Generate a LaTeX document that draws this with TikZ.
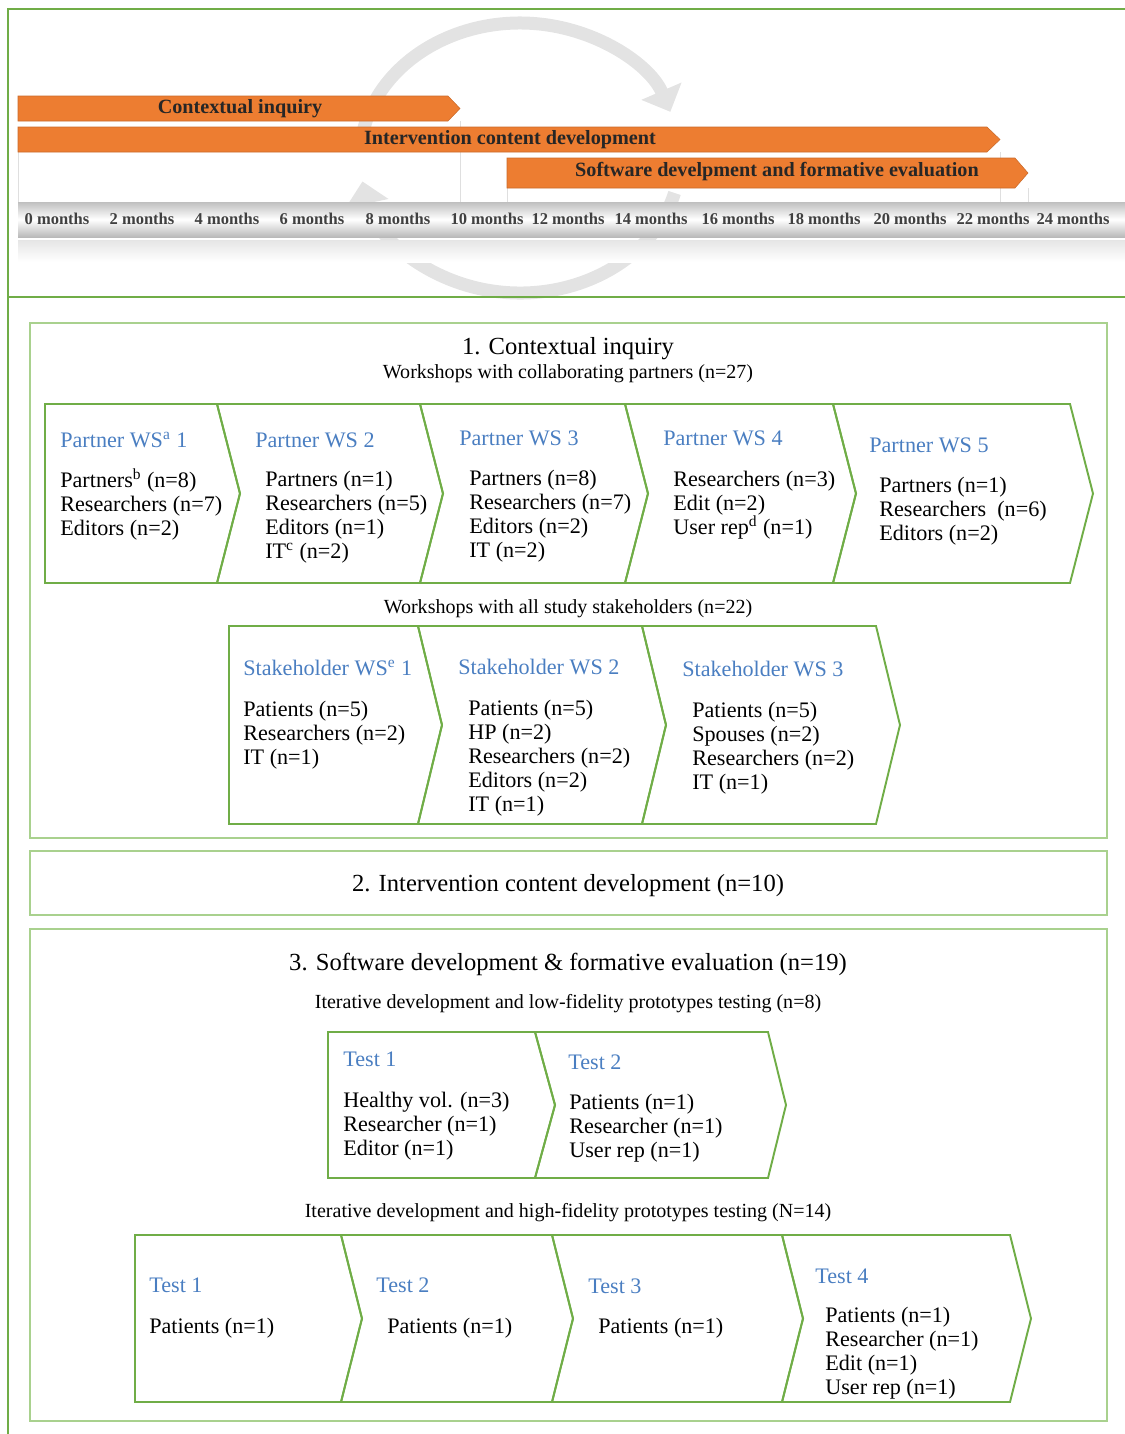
\documentclass[tikz,border=0pt]{standalone}
\usepackage{fontspec}
\setmainfont{Liberation Serif}
\usetikzlibrary{arrows.meta}
\definecolor{framegreen}{RGB}{112,173,71}
\definecolor{boxgreen}{RGB}{169,209,142}
\definecolor{wsblue}{RGB}{74,126,193}
\definecolor{barorange}{RGB}{237,125,49}
\begin{document}
\begin{tikzpicture}[x=0.02cm, y=-0.02cm,
  frame/.style={draw=framegreen, line width=1.2pt},
  secbox/.style={draw=boxgreen, line width=1pt},
  chev/.style={draw=framegreen, line width=1.1pt, line join=miter},
  bar/.style={fill=barorange, draw=barorange!85!black, line width=0.3pt},
  bartxt/.style={font=\fontsize{11.5}{13}\selectfont\bfseries, text=black!85, inner sep=0pt},
  month/.style={font=\fontsize{9.4}{11}\selectfont\bfseries, text=black!75, inner sep=0pt},
  swirl/.style={draw=gray!22, line width=0.26cm, -{Triangle[length=0.45cm, width=0.85cm]}},
  ttl/.style={font=\fontsize{14}{16}\selectfont, inner sep=0pt},
  sub/.style={font=\fontsize{11.4}{13}\selectfont, inner sep=0pt},
  hd/.style={anchor=base west, inner sep=0pt, text=wsblue, font=\fontsize{12.6}{13.7}\selectfont},
  bd/.style={anchor=base west, inner sep=0pt, align=left, font=\fontsize{12.6}{13.66}\selectfont}]
  \useasboundingbox (0,0) rectangle (1125,1434);
  % timeline panel
  \draw[swirl] (520,158) ++(-170:160 and 135) arc[start angle=-170, end angle=-20, x radius=160, y radius=135];
  \draw[swirl] (520,158) ++(15:160 and 135) arc[start angle=15, end angle=170, x radius=160, y radius=135];
  \foreach \x/\y in {18/152, 460/121, 507/188, 1000/152, 1028/188}
    \draw[gray!25] (\x,\y) -- (\x,202);
  \shade[top color=gray!50, bottom color=gray!55, middle color=white] (18,202) rectangle (1125,237);
  \shade[top color=gray!20, bottom color=white] (18,240) rectangle (1125,262);
  \foreach \m/\x in {0/57, 2/142, 4/227, 6/312, 8/398, 10/487, 12/568, 14/651, 16/738, 18/824, 20/910, 22/993, 24/1073}
    \node[month] (m\m) at (\x,219) {\m\ months};
  \draw[bar] (18,96) -- (448,96) -- (460,108.5) -- (448,121) -- (18,121) -- cycle;
  \node[bartxt] (ci) at (240,108.5) {Contextual inquiry};
  \draw[bar] (18,127) -- (987,127) -- (1000,139.5) -- (987,152) -- (18,152) -- cycle;
  \node[bartxt] (icd) at (510,140) {Intervention content development};
  \draw[bar] (507,158) -- (1015,158) -- (1028,173) -- (1015,188) -- (507,188) -- cycle;
  \node[bartxt] (sdf) at (777,172) {Software develpment and formative evaluation};
  \draw[frame] (1125,9) -- (8,9) -- (8,1434);
  \draw[frame] (8,297) -- (1125,297);
  % 1. contextual inquiry
  \draw[secbox] (30,323) rectangle (1107,838);
  \node[ttl] (t1) at (568,349) {1. Contextual inquiry};
  \node[sub] (s1a) at (568,374) {Workshops with collaborating partners (n=27)};
  \draw[chev] (45,404) -- (217,404) -- (240,493.5) -- (217,583) -- (45,583) -- cycle;
  \foreach \a/\b in {217/420, 420/625, 625/833, 833/1070}
    \draw[chev] (\a,404) -- (\b,404) -- ++(23,89.5) -- (\b,583) -- (\a,583) -- ++(23,-89.5) -- cycle;
  \node[hd] (p1h) at (60,447) {Partner WS\textsuperscript{a} 1};
  \node[bd] (p1b) at (60,535) {Partners\textsuperscript{b} (n=8)\\Researchers (n=7)\\Editors (n=2)};
  \node[hd] (p2h) at (255,447) {Partner WS 2};
  \node[bd] (p2b) at (265,558) {Partners (n=1)\\Researchers (n=5)\\Editors (n=1)\\IT\textsuperscript{c} (n=2)};
  \node[hd] (p3h) at (459,445) {Partner WS 3};
  \node[bd] (p3b) at (469,557) {Partners (n=8)\\Researchers (n=7)\\Editors (n=2)\\IT (n=2)};
  \node[hd] (p4h) at (663,445) {Partner WS 4};
  \node[bd] (p4b) at (673,534) {Researchers (n=3)\\Edit (n=2)\\User rep\textsuperscript{d} (n=1)};
  \node[hd] (p5h) at (869,452) {Partner WS 5};
  \node[bd] (p5b) at (879,540) {Partners (n=1)\\Researchers~ (n=6)\\Editors (n=2)};
  \node[sub] (s1b) at (568,609) {Workshops with all study stakeholders (n=22)};
  \draw[chev] (229,626) -- (418,626) -- (442,725) -- (418,824) -- (229,824) -- cycle;
  \foreach \a/\b in {418/642, 642/876}
    \draw[chev] (\a,626) -- (\b,626) -- ++(24,99) -- (\b,824) -- (\a,824) -- ++(24,-99) -- cycle;
  \node[hd] (k1h) at (243,675) {Stakeholder WS\textsuperscript{e} 1};
  \node[bd] (k1b) at (243,764) {Patients (n=5)\\Researchers (n=2)\\IT (n=1)};
  \node[hd] (k2h) at (458,674) {Stakeholder WS 2};
  \node[bd] (k2b) at (468,811) {Patients (n=5)\\HP (n=2)\\Researchers (n=2)\\Editors (n=2)\\IT (n=1)};
  \node[hd] (k3h) at (682,676) {Stakeholder WS 3};
  \node[bd] (k3b) at (692,789) {Patients (n=5)\\Spouses (n=2)\\Researchers (n=2)\\IT (n=1)};
  % 2. intervention content
  \draw[secbox] (30,851) rectangle (1107,915);
  \node[ttl] (t2) at (568,886) {2. Intervention content development (n=10)};
  % 3. software development
  \draw[secbox] (30,929) rectangle (1107,1421);
  \node[ttl] (t3) at (568,964) {3. Software development \& formative evaluation (n=19)};
  \node[sub] (s3a) at (568,1004) {Iterative development and low-fidelity prototypes testing (n=8)};
  \draw[chev] (328,1032) -- (535,1032) -- (555,1105) -- (535,1178) -- (328,1178) -- cycle;
  \draw[chev] (535,1032) -- (768,1032) -- (786,1105) -- (768,1178) -- (535,1178) -- (555,1105) -- cycle;
  \node[hd] (l1h) at (343,1066) {Test 1};
  \node[bd] (l1b) at (343,1155) {Healthy vol. (n=3)\\Researcher (n=1)\\Editor (n=1)};
  \node[hd] (l2h) at (568,1069) {Test 2};
  \node[bd] (l2b) at (569,1157) {Patients (n=1)\\Researcher (n=1)\\User rep (n=1)};
  \node[sub] (s3b) at (568,1213) {Iterative development and high-fidelity prototypes testing (N=14)};
  \draw[chev] (135,1235) -- (341,1235) -- (362,1318.5) -- (341,1402) -- (135,1402) -- cycle;
  \foreach \a/\b in {341/552, 552/782, 782/1010}
    \draw[chev] (\a,1235) -- (\b,1235) -- ++(21,83.5) -- (\b,1402) -- (\a,1402) -- ++(21,-83.5) -- cycle;
  \node[hd] (h1h) at (149,1292) {Test 1};
  \node[bd] (h1b) at (149,1333) {Patients (n=1)};
  \node[hd] (h2h) at (376,1292) {Test 2};
  \node[bd] (h2b) at (387,1333) {Patients (n=1)};
  \node[hd] (h3h) at (588,1293) {Test 3};
  \node[bd] (h3b) at (598,1333) {Patients (n=1)};
  \node[hd] (h4h) at (815,1283) {Test 4};
  \node[bd] (h4b) at (825,1394) {Patients (n=1)\\Researcher (n=1)\\Edit (n=1)\\User rep (n=1)};
\end{tikzpicture}
\end{document}
